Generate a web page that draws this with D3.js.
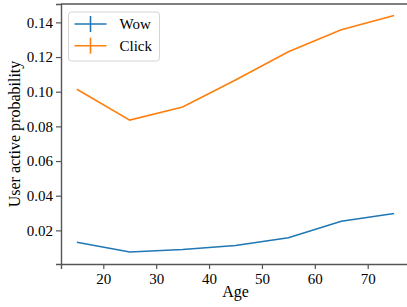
<!DOCTYPE html>
<html>
<head>
<meta charset="utf-8">
<script src="https://cdn.jsdelivr.net/npm/d3@7"></script>
<style>
  body { margin: 0; background: #fff; }
  svg text { font-family: "Liberation Serif", "Times New Roman", serif; }
</style>
</head>
<body>
<svg width="407" height="307"></svg>
<script>
'use strict';

// chart data
var ages = [15, 25, 35, 45, 55, 65, 75];
var wowValues = [0.0131, 0.0075, 0.0090, 0.0113, 0.0157, 0.0253, 0.0297];
var clickValues = [0.1014, 0.0836, 0.0912, 0.1068, 0.1230, 0.1358, 0.1440];
var seriesNames = ['Wow', 'Click'];
var xTicks = [20, 30, 40, 50, 60, 70];
var yTicks = [0.02, 0.04, 0.06, 0.08, 0.10, 0.12, 0.14];

var colors = ['#1f77b4', '#ff7f0e'];
var margin = {top: 4, left: 61};
var plotW = 349, plotH = 260;

var svg = d3.select('svg');
var g = svg.append('g')
    .attr('transform', 'translate(' + margin.left + ',' + margin.top + ')');

// scales
var x = d3.scaleLinear().domain([12, 78]).range([0, plotW]);
var y = d3.scaleLinear().domain([0.0006, 0.1506]).range([plotH, 0]);

// axes
var xAxis = g.append('g')
    .attr('transform', 'translate(0,' + plotH + ')')
    .call(d3.axisBottom(x).tickValues(xTicks).tickSize(5).tickPadding(4)
        .tickFormat(d3.format('d')));
var yAxis = g.append('g')
    .call(d3.axisLeft(y).tickValues(yTicks).tickSize(5).tickPadding(3)
        .tickFormat(d3.format('.2f')));

[xAxis, yAxis].forEach(function(a) {
    a.attr('font-family', null).attr('font-size', 15);
    a.selectAll('text').attr('fill', '#000');
    a.selectAll('line').attr('stroke', '#555').attr('stroke-width', 1.2);
    a.select('.domain').attr('stroke', '#555').attr('stroke-width', 1.4);
});

// top and right spines
g.append('line').attr('x1', 0).attr('x2', plotW).attr('y1', 0).attr('y2', 0)
    .attr('stroke', '#555').attr('stroke-width', 1.4);
g.append('line').attr('x1', plotW).attr('x2', plotW).attr('y1', 0).attr('y2', plotH)
    .attr('stroke', '#555').attr('stroke-width', 1.4);

// lines
var line = d3.line()
    .x(function(d) { return x(d[0]); })
    .y(function(d) { return y(d[1]); });

[wowValues, clickValues].forEach(function(vals, i) {
    g.append('path')
        .datum(ages.map(function(a, j) { return [a, vals[j]]; }))
        .attr('fill', 'none')
        .attr('stroke', colors[i])
        .attr('stroke-width', 1.6)
        .attr('d', line);
});

// axis labels
svg.append('text')
    .attr('x', margin.left + plotW / 2).attr('y', 297)
    .attr('text-anchor', 'middle').attr('font-size', 16)
    .text('Age');
svg.append('text')
    .attr('transform', 'translate(20,' + (margin.top + plotH / 2) + ') rotate(-90)')
    .attr('text-anchor', 'middle').attr('font-size', 16)
    .text('User active probability');

// legend
var legend = svg.append('g').attr('transform', 'translate(68.5,12)');
legend.append('rect')
    .attr('width', 91).attr('height', 49).attr('rx', 3)
    .attr('fill', '#fff').attr('fill-opacity', 0.8)
    .attr('stroke', '#d5d5d5').attr('stroke-width', 1);

seriesNames.forEach(function(name, i) {
    var row = legend.append('g').attr('transform', 'translate(0,' + (12 + i * 21.7) + ')');
    row.append('line').attr('x1', 6).attr('x2', 38).attr('y1', 0).attr('y2', 0)
        .attr('stroke', colors[i]).attr('stroke-width', 1.6);
    row.append('line').attr('x1', 22).attr('x2', 22).attr('y1', -8).attr('y2', 8)
        .attr('stroke', colors[i]).attr('stroke-width', 1.6);
    row.append('text').attr('x', 51).attr('y', 5)
        .attr('font-size', 15).text(name);
});
</script>
</body>
</html>
